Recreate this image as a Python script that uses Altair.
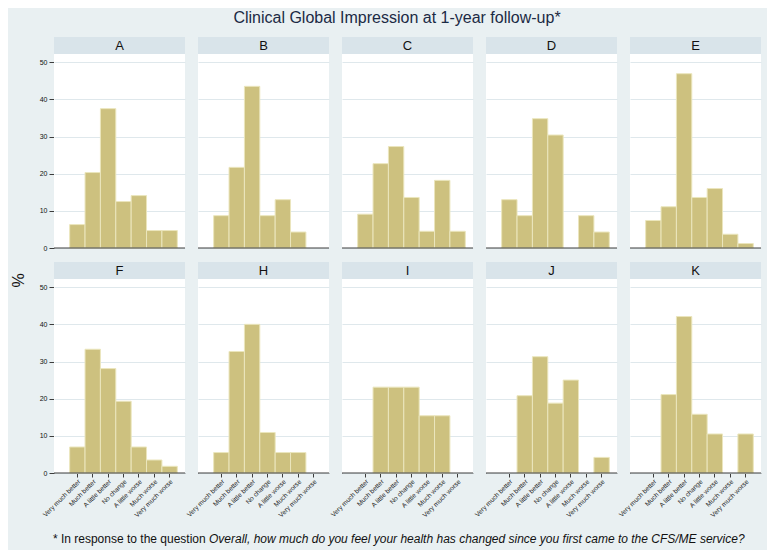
import altair as alt
import pandas as pd

groups = ["A", "B", "C", "D", "E", "F", "H", "I", "J", "K"]
categories = ["Very much better", "Much better", "A little better", "No change",
              "A little worse", "Much worse", "Very much worse"]

pct_A = [6.3, 20.3, 37.5, 12.5, 14.1, 4.7, 4.7]
pct_B = [8.7, 21.7, 43.5, 8.7, 13.0, 4.3, 0.0]
pct_C = [9.1, 22.7, 27.3, 13.6, 4.5, 18.2, 4.5]
pct_D = [13.0, 8.7, 34.8, 30.4, 0.0, 8.7, 4.3]
pct_E = [7.4, 11.1, 46.9, 13.6, 16.0, 3.7, 1.2]
pct_F = [7.0, 33.3, 28.1, 19.3, 7.0, 3.5, 1.8]
pct_H = [5.5, 32.7, 40.0, 10.9, 5.5, 5.5, 0.0]
pct_I = [0.0, 23.1, 23.1, 23.1, 15.4, 15.4, 0.0]
pct_J = [0.0, 20.8, 31.3, 18.8, 25.0, 0.0, 4.2]
pct_K = [0.0, 21.1, 42.1, 15.8, 10.5, 0.0, 10.5]

y_ticks = [0, 10, 20, 30, 40, 50]

title_text = "Clinical Global Impression at 1-year follow-up*"
foot_lead = "* In response to the question"
foot_question = ("Overall, how much do you feel your health has changed "
                 "since you first came to the CFS/ME service?")

series = {"A": pct_A, "B": pct_B, "C": pct_C, "D": pct_D, "E": pct_E,
          "F": pct_F, "H": pct_H, "I": pct_I, "J": pct_J, "K": pct_K}

rows = []
for g in groups:
    for i, (c, v) in enumerate(zip(categories, series[g])):
        rows.append({"group": g, "cat": c, "idx": i + 1, "pct": v})
df = pd.DataFrame(rows)

W, H = 131, 194
BG = "#e9f0f2"
HEAD = "#d9e4ea"
BAR = "#cdc17f"
BAR_STROKE = "#ebe6bd"
GRID = "#dfe8ec"
AXIS = "#3c3c3c"
FONT = "Liberation Sans, Arial, Helvetica, sans-serif"

xscale = alt.Scale(domain=categories, paddingInner=0, paddingOuter=0.76, align=0.67)
yscale = alt.Scale(domain=[0, 52.2], nice=False, zero=True)
yaxis = alt.Axis(title=None, values=y_ticks, tickCount=6, grid=True, gridColor=GRID,
                 domainColor=AXIS, tickColor=AXIS, tickSize=5, labelFontSize=7,
                 labelPadding=2, labelColor="#111111", labelOverlap=False)

base = alt.Chart()
first = "datum.idx == 1"

head_rect = base.mark_rect(color=HEAD).encode(
    x=alt.value(0), x2=alt.value(W), y=alt.value(-17), y2=alt.value(0)
).transform_filter(first)

head_text = base.mark_text(fontSize=13, color="#111111", baseline="middle").encode(
    text="group:N", x=alt.value(W / 2), y=alt.value(-8.5)
).transform_filter(first)

bars = base.mark_bar(color=BAR, stroke=BAR_STROKE, strokeWidth=1).encode(
    x=alt.X("cat:N", scale=xscale, sort=categories,
            axis=alt.Axis(title=None, labelAngle=-45, labelFontSize=6.6, labelColor="#222222",
                          tickColor=AXIS, domainColor=AXIS, tickSize=4, labelPadding=1,
                          grid=False)),
    y=alt.Y("pct:Q", scale=yscale, axis=yaxis),
).transform_filter("datum.pct > 0")

baseline = base.mark_rule(color=AXIS, strokeWidth=1).encode(
    y=alt.Y(datum=0, scale=yscale, axis=yaxis)
).transform_filter(first)

pct_label = base.mark_text(fontSize=16, angle=270, color="#111111",
                           baseline="middle", align="center").encode(
    text=alt.value("%"), x=alt.value(-35.5), y=alt.value(1.5)
).transform_filter(first + " && datum.group == 'F'")

foot1 = base.mark_text(fontSize=12, color="#111111", align="right",
                       baseline="alphabetic").encode(
    text=alt.value(foot_lead), x=alt.value(-136.3), y=alt.value(263.5)
).transform_filter(first + " && datum.group == 'I'")

foot2 = base.mark_text(fontSize=12, color="#111111", align="left", fontStyle="italic",
                       baseline="alphabetic").encode(
    text=alt.value(foot_question), x=alt.value(-133), y=alt.value(263.5)
).transform_filter(first + " && datum.group == 'I'")

cell = alt.layer(head_rect, bars, baseline, head_text, pct_label, foot1, foot2,
                 data=df).properties(width=W, height=H)

chart = cell.facet(
    facet=alt.Facet("group:N", sort=groups, title=None,
                    header=alt.Header(labels=False, labelFontSize=0, labelPadding=0,
                                      labelExpr="''", labelColor=BG)),
    columns=5,
    spacing={"row": 31, "column": 13},
).properties(
    bounds="flush",
    background=BG,
    padding={"left": 2, "top": 2, "right": 5, "bottom": 5},
    title=alt.TitleParams(title_text, fontSize=16, fontWeight="normal", color="#1b2a44",
                          anchor="middle", offset=11, dx=11),
).configure(font=FONT).configure_view(
    fill="white", strokeWidth=0
).configure_header(labels=False, labelFontSize=0, labelPadding=0)

chart.save("out.html", embed_options={"renderer": "svg", "actions": False})
